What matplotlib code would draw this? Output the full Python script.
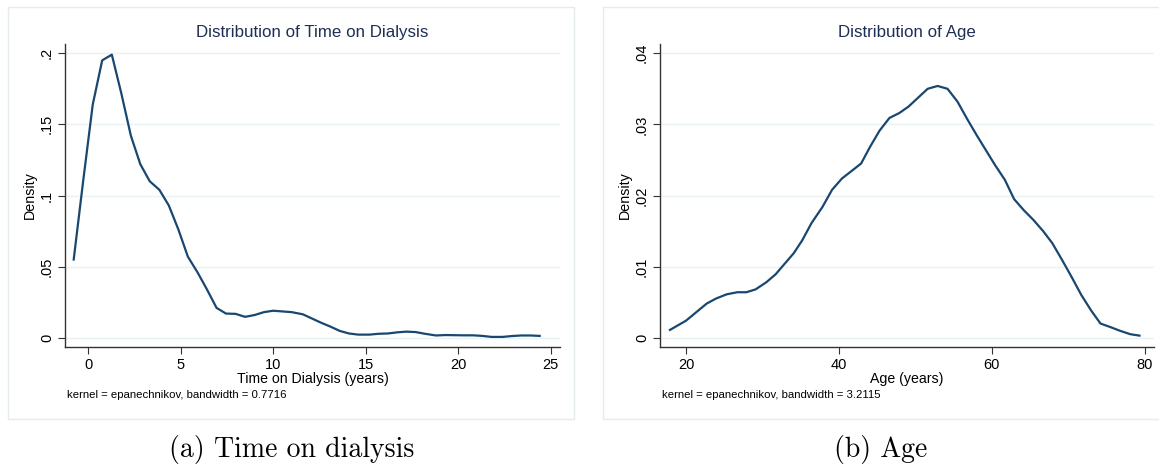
import matplotlib
matplotlib.use("Agg")
import matplotlib.pyplot as plt
from matplotlib.patches import Rectangle

# data (kernel density estimates, 50 points each)
dial_x = [-0.78, -0.27, 0.25, 0.76, 1.28, 1.79, 2.31, 2.82, 3.33, 3.85,
          4.36, 4.88, 5.39, 5.91, 6.42, 6.94, 7.45, 7.97, 8.48, 9.0,
          9.5, 10.0, 10.5, 11.0, 11.6, 12.1, 12.6, 13.1, 13.6, 14.1,
          14.6, 15.2, 15.7, 16.2, 16.7, 17.2, 17.7, 18.2, 18.8, 19.3,
          19.8, 20.3, 20.8, 21.3, 21.8, 22.4, 22.9, 23.4, 23.9, 24.4]
dial_y = [0.055, 0.110, 0.164, 0.195, 0.199, 0.172, 0.142, 0.122, 0.110, 0.104,
          0.093, 0.076, 0.057, 0.046, 0.034, 0.021, 0.017, 0.0168, 0.0147, 0.016,
          0.018, 0.019, 0.0185, 0.018, 0.0165, 0.0135, 0.0105, 0.0078, 0.0048, 0.003,
          0.0022, 0.0022, 0.0028, 0.003, 0.0038, 0.0043, 0.004, 0.0028, 0.0016, 0.0019,
          0.0018, 0.0017, 0.0017, 0.0013, 0.0006, 0.0006, 0.0012, 0.0016, 0.0016, 0.0013]

age_x = [17.9, 20.0, 22.7, 23.9, 25.3, 26.7, 27.9, 29.1, 30.5, 31.7,
         34.1, 35.2, 36.4, 37.85, 39.1, 40.4, 41.6, 42.9, 44.1, 45.3,
         46.6, 47.9, 49.1, 50.4, 51.6, 52.9, 54.2, 55.5, 56.8, 58.0,
         59.2, 60.4, 61.7, 62.9, 64.2, 65.4, 66.7, 67.9, 69.2, 70.5,
         71.7, 73.0, 74.2, 75.5, 76.7, 78.1, 79.3]
age_y = [0.0011, 0.0024, 0.0048, 0.0055, 0.0061, 0.0064, 0.0064, 0.0068, 0.0078, 0.0089,
         0.0119, 0.0137, 0.0161, 0.0184, 0.0208, 0.0224, 0.0234, 0.0245, 0.0269, 0.0291,
         0.0309, 0.0316, 0.0325, 0.0338, 0.0350, 0.0354, 0.0350, 0.0332, 0.0307, 0.0285,
         0.0264, 0.0243, 0.0222, 0.0195, 0.0179, 0.0166, 0.0150, 0.0133, 0.0109, 0.0084,
         0.0060, 0.0038, 0.0020, 0.0015, 0.0010, 0.0005, 0.0003]

dial_yticks = [0, 0.05, 0.1, 0.15, 0.2]
dial_ylabels = ["0", ".05", ".1", ".15", ".2"]
dial_xticks = [0, 5, 10, 15, 20, 25]
age_yticks = [0, 0.01, 0.02, 0.03, 0.04]
age_ylabels = ["0", ".01", ".02", ".03", ".04"]
age_xticks = [20, 40, 60, 80]

plt.rcParams['font.family'] = ['Liberation Sans', 'DejaVu Sans']

W, H = 1159, 466
fig = plt.figure(figsize=(W / 100, H / 100), dpi=100)

line_col = "#1a476f"
title_col = "#1e2f55"
grid_col = "#eaf2f3"
box_col = "#e4ecee"


def fx(px):
    return px / W


def fy(py):
    return 1 - py / H


def panel(x0, x1, xs, ys, xlim, ylim, xticks, yticks, ylabels, title, xlabel, note, caption, cap_x):
    # outer frame of the stata graph
    fig.patches.append(Rectangle((fx(x0 - 57), fy(419)), fx(x1 - x0 + 57 + 14), fy(7) - fy(419),
                                 transform=fig.transFigure, fill=False, ec=box_col, lw=1.0))
    ax = fig.add_axes([fx(x0), fy(347), fx(x1 - x0), fy(44) - fy(347)])
    ax.plot(xs, ys, color=line_col, lw=1.6)
    ax.set_xlim(*xlim)
    ax.set_ylim(*ylim)
    ax.set_xticks(xticks)
    ax.set_yticks(yticks)
    ax.set_yticklabels(ylabels, rotation=90, va="center")
    ax.tick_params(labelsize=10.5, length=5, width=0.8, color="#333333", pad=3)
    for s in ["top", "right"]:
        ax.spines[s].set_visible(False)
    for s in ["left", "bottom"]:
        ax.spines[s].set_color("#333333")
        ax.spines[s].set_linewidth(1.0)
    ax.grid(axis="y", color=grid_col, lw=1.0)
    ax.set_axisbelow(True)
    ax.set_ylabel("Density", fontsize=10.3, labelpad=2)
    ax.set_xlabel(xlabel, fontsize=10.2, labelpad=0)
    cx = (x0 + x1) / 2
    fig.text(fx(cx), fy(32), title, color=title_col, fontsize=12.2, ha="center", va="center")
    fig.text(fx(x0 + 2), fy(395), note, fontsize=8.2, ha="left", va="center")
    fig.text(fx(cap_x), fy(449), caption, fontsize=20, ha="center", va="center",
             family="cmr10")
    return ax


panel(65, 560, dial_x, dial_y, (-1.25, 25.5), (-0.0065, 0.2065), dial_xticks,
      dial_yticks, dial_ylabels, "Distribution of Time on Dialysis",
      "Time on Dialysis (years)", "kernel = epanechnikov, bandwidth = 0.7716",
      "(a) Time on dialysis", 292)
panel(660, 1154, age_x, age_y, (16.6, 81.2), (-0.0013, 0.0413), age_xticks,
      age_yticks, age_ylabels, "Distribution of Age",
      "Age (years)", "kernel = epanechnikov, bandwidth = 3.2115",
      "(b) Age", 881)

fig.savefig("out.png", dpi=100)
